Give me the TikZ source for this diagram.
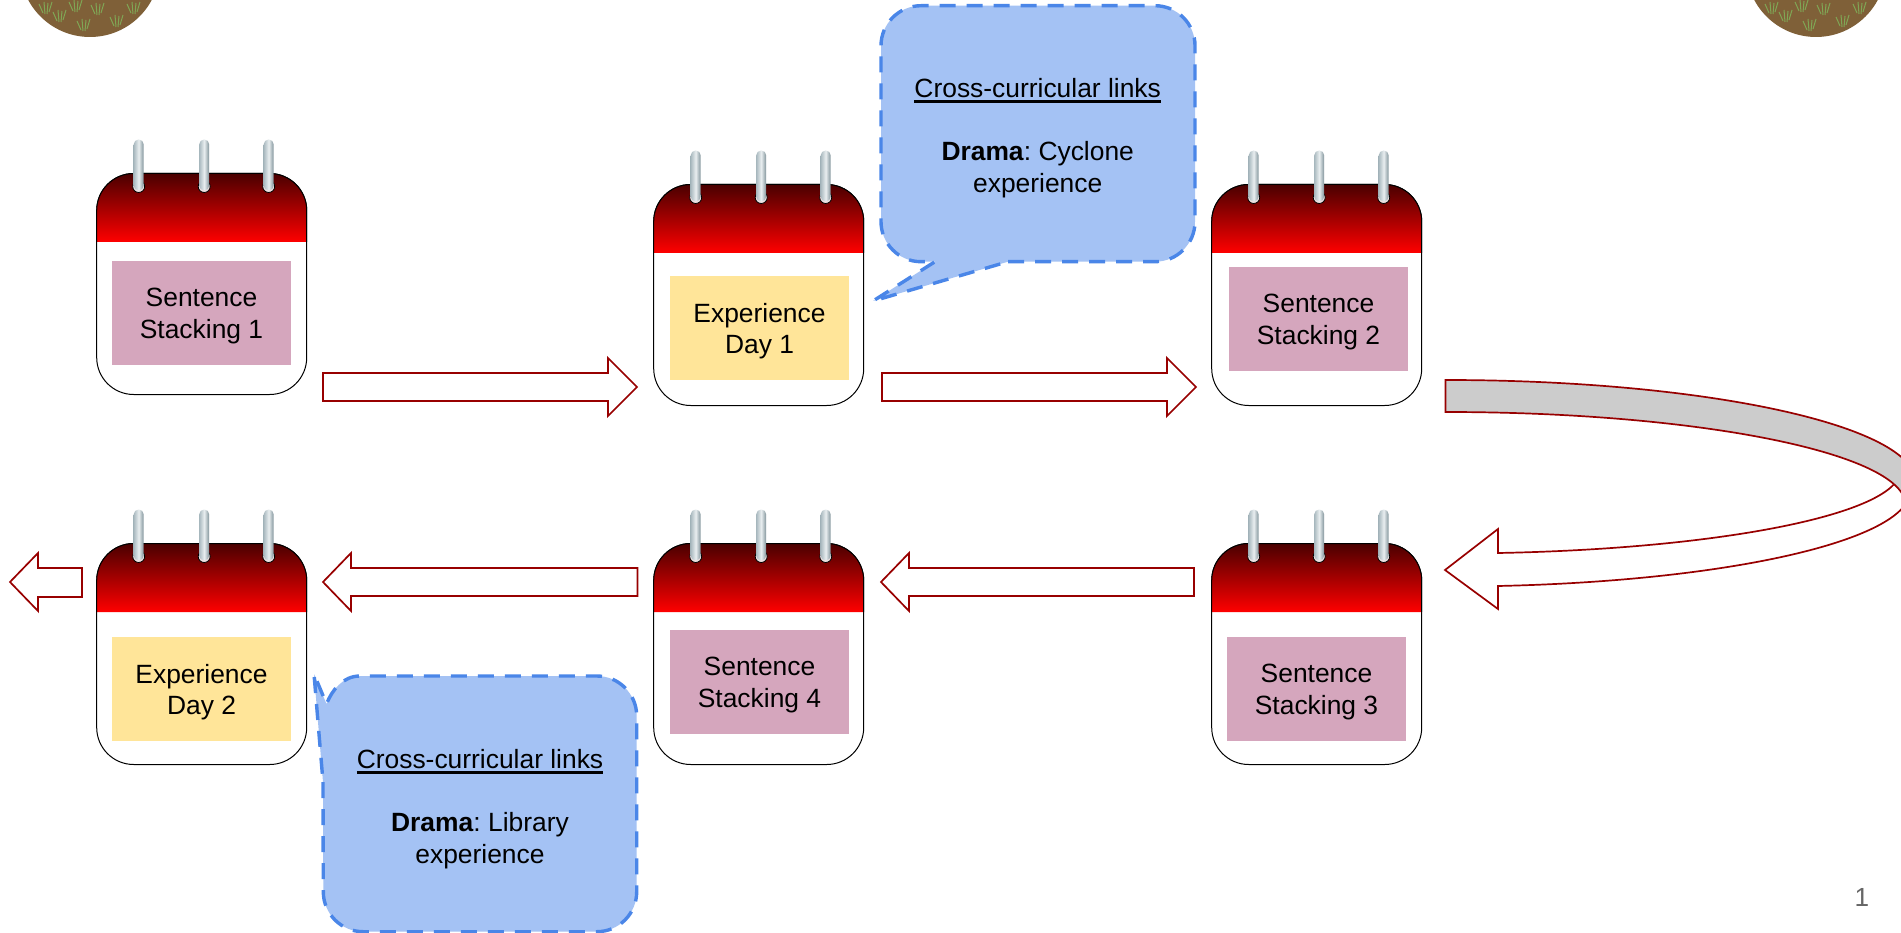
\documentclass[tikz,border=0pt]{standalone}
\usepackage{fontspec}
\setmainfont{Liberation Sans}
\frenchspacing
\usetikzlibrary{arrows}
\definecolor{pinknote}{HTML}{D5A6BD}
\definecolor{yellownote}{HTML}{FFE599}
\definecolor{calloutfill}{HTML}{A4C2F4}
\definecolor{calloutline}{HTML}{4A86E8}
\definecolor{arrowred}{HTML}{980000}
\definecolor{bandtop}{HTML}{4A0000}
\definecolor{bandbottom}{HTML}{FF0000}
\definecolor{ringleft}{HTML}{A9B9BF}
\definecolor{ringright}{HTML}{7F9299}
\definecolor{ringmid}{HTML}{E9EEF0}
\definecolor{soilbrown}{HTML}{7F6038}
\definecolor{grassgreen}{HTML}{7FA655}
\definecolor{pagegrey}{HTML}{666666}
\tikzset{
  slidetext/.style={font=\fontsize{26.4}{31.5}\selectfont,align=center,text=black},
  notebox/.style={minimum width=179pt,minimum height=104pt,inner sep=0pt},
  blockarrow/.style={draw=arrowred,line width=1.7pt,fill=white,line join=miter},
  speechbox/.style={draw=calloutline,fill=calloutfill,line width=3.4pt,dash pattern=on 16pt off 11pt}
}
\newcommand{\linkline}[1]{\setbox0=\hbox{#1}\rlap{\vrule width\wd0 height -3pt depth 5.4pt}\box0}
\newcommand{\calpage}[2]{
  \begin{scope}[shift={(#1,#2)}]
    \draw [line width=1pt,fill=white,rounded corners=37pt] (0,0) rectangle (210,221);
    \shade [top color=bandtop,bottom color=bandbottom] (0,68.5) -- (0,37) .. controls (0,16.6) and (16.6,0) .. (37,0) -- (173,0) .. controls (193.4,0) and (210,16.6) .. (210,37) -- (210,68.5) -- cycle;
    \draw [line width=1pt] (0,68.5) -- (0,37) .. controls (0,16.6) and (16.6,0) .. (37,0) -- (173,0) .. controls (193.4,0) and (210,16.6) .. (210,37) -- (210,68.5);
    \foreach \rx in {42,107.5,172} {
      \draw [line width=0.8pt,fill=ringmid!70!pink] (\rx,13) circle (6pt);
      \shade [left color=ringleft,right color=ringright,middle color=ringmid,rounded corners=4.9pt] (\rx-5,-34) rectangle (\rx+5,17);
    }
  \end{scope}
}
\newcommand{\notecard}[5]{
  \node [notebox,fill=#2] (#1) at (#3,#4) {};
  \node [slidetext] (#1text) at ([yshift=-3pt]#1.center) {#5};
}
\begin{document}
\begin{tikzpicture}[line cap=butt,line join=round,x=1pt,y=-1pt]
  \clip (0,0) rectangle (1901,933);
  \fill [white] (0,0) rectangle (1901,933);
  \foreach \mx in {90,1816} {
    \fill [soilbrown] (\mx,-33) circle (70pt);
    \foreach \gx/\gy in {-45/8,-31/16,-15/6,7/9,-7/25,26/21,43/8} {
      \draw [grassgreen,line width=1pt] (\mx+\gx-2,\gy+5) -- (\mx+\gx-6,\gy-4);
      \draw [grassgreen,line width=1pt] (\mx+\gx,\gy+6) -- (\mx+\gx-1,\gy-6);
      \draw [grassgreen,line width=1pt] (\mx+\gx+2,\gy+6) -- (\mx+\gx+3,\gy-5);
      \draw [grassgreen,line width=1pt] (\mx+\gx+4,\gy+4) -- (\mx+\gx+7,\gy-6);
    }
  }
  \calpage{96.7}{173.5}
  \calpage{653.7}{184.5}
  \calpage{1211.7}{184.5}
  \calpage{1211.7}{543.5}
  \calpage{653.7}{543.5}
  \calpage{96.7}{543.5}
  \notecard{stacking1}{pinknote}{201.5}{313}{Sentence\\Stacking 1}
  \notecard{experience1}{yellownote}{759.5}{328}{Experience\\Day 1}
  \notecard{stacking2}{pinknote}{1318.5}{319}{Sentence\\Stacking 2}
  \notecard{stacking3}{pinknote}{1316.5}{689}{Sentence\\Stacking 3}
  \notecard{stacking4}{pinknote}{759.5}{682}{Sentence\\Stacking 4}
  \notecard{experience2}{yellownote}{201.5}{689}{Experience\\Day 2}
  \draw [blockarrow] (323,373) -- (608,373) -- (608,358) -- (637,387) -- (608,416) -- (608,401) -- (323,401) -- cycle;
  \draw [blockarrow] (882,373) -- (1167,373) -- (1167,358) -- (1196,387) -- (1167,416) -- (1167,401) -- (882,401) -- cycle;
  \draw [blockarrow] (1194,568) -- (909,568) -- (909,553) -- (881,582) -- (909,611) -- (909,596) -- (1194,596) -- cycle;
  \draw [blockarrow] (637.5,568) -- (351,568) -- (351,553) -- (323,582) -- (351,611) -- (351,596) -- (637.5,596) -- cycle;
  \draw [blockarrow] (82,568) -- (38,568) -- (38,553) -- (10,582) -- (38,611) -- (38,597) -- (82,597) -- cycle;
  \draw [blockarrow] (1910.5,490) .. controls (1910.5,539.8) and (1730.5,580.9) .. (1498,586) -- (1498,609) -- (1445,570) -- (1498,529) -- (1498,553) .. controls (1724.3,548.7) and (1900.5,513.2) .. (1900.5,470) -- cycle;
  \draw [blockarrow,fill=black!20] (1445.5,380) .. controls (1705.1,380) and (1915.5,425.7) .. (1915.5,482) -- (1905.5,505) .. controls (1905.5,453.6) and (1699.5,412) .. (1445.5,412) -- cycle;
  \draw [speechbox] (1008,261.7) -- (1155,261.7) .. controls (1177,261.7) and (1195,243.7) .. (1195,221.7) -- (1195,45.7) .. controls (1195,23.7) and (1177,5.7) .. (1155,5.7) -- (921,5.7) .. controls (899,5.7) and (881,23.7) .. (881,45.7) -- (881,221.7) .. controls (881,243.7) and (899,261.7) .. (921,261.7) -- (935,261.7) -- (873,301) -- cycle;
  \draw [speechbox] (323,782) -- (323.3,891.7) .. controls (323.3,913.8) and (341.2,931.7) .. (363.3,931.7) -- (596.7,931.7) .. controls (618.8,931.7) and (636.7,913.8) .. (636.7,891.7) -- (636.7,716) .. controls (636.7,693.9) and (618.8,676) .. (596.7,676) -- (360,676) .. controls (343,676) and (332,690) .. (326.5,704) -- (314,674) -- cycle;
  \node [slidetext] (linksone) at (1037.7,138) {\linkline{Cross-curricular links}\\[32pt]\textbf{Drama}: Cyclone\\experience};
  \node [slidetext] (linkstwo) at (480,809) {\linkline{Cross-curricular links}\\[32pt]\textbf{Drama}: Library\\experience};
  \node [font=\fontsize{26.2}{32}\selectfont,text=pagegrey] (pagenum) at (1862,897) {1};
\end{tikzpicture}
\end{document}
